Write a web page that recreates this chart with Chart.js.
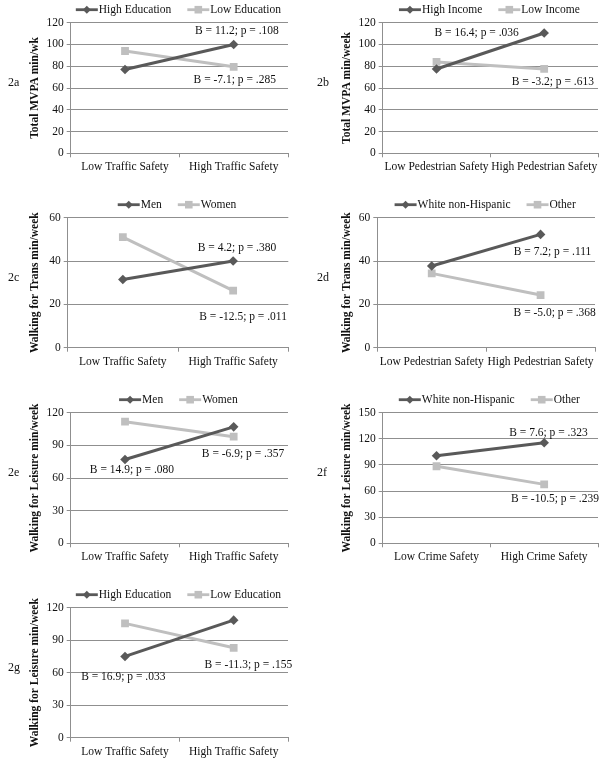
<!DOCTYPE html>
<html>
<head>
<meta charset="utf-8">
<script src="https://cdn.jsdelivr.net/npm/chart.js@4"></script>
<style>
  body { margin: 0; background: #fff; width: 605px; height: 763px; position: relative; overflow: hidden; }
  .panel { position: absolute; }
</style>
</head>
<body>
<div class="panel" style="left:0;top:0;width:300px;height:180px"><canvas id="c2a"></canvas></div>
<div class="panel" style="left:300px;top:0;width:305px;height:180px"><canvas id="c2b"></canvas></div>
<div class="panel" style="left:0;top:190px;width:300px;height:180px"><canvas id="c2c"></canvas></div>
<div class="panel" style="left:300px;top:190px;width:305px;height:180px"><canvas id="c2d"></canvas></div>
<div class="panel" style="left:0;top:390px;width:300px;height:180px"><canvas id="c2e"></canvas></div>
<div class="panel" style="left:300px;top:390px;width:305px;height:180px"><canvas id="c2f"></canvas></div>
<div class="panel" style="left:0;top:585px;width:300px;height:178px"><canvas id="c2g"></canvas></div>
<script>
// categories
const trafficCats = ['Low Traffic Safety', 'High Traffic Safety'];
const pedCats = ['Low Pedestrian Safety', 'High Pedestrian Safety'];
const crimeCats = ['Low Crime Safety', 'High Crime Safety'];

// 2a total MVPA by education
const highEdMvpa = [77, 100];
const lowEdMvpa = [94, 79.5];
// 2b total MVPA by income
const highIncMvpa = [77.5, 110.5];
const lowIncMvpa = [84, 77.5];
// 2c walking for transport by gender
const menTrans = [31.5, 40];
const womenTrans = [51, 26.3];
// 2d walking for transport by race
const whiteTrans = [37.7, 52.3];
const otherTrans = [34.3, 24.3];
// 2e walking for leisure by gender
const menLeisure = [77, 107];
const womenLeisure = [111.7, 98];
// 2f walking for leisure by race
const whiteLeisure = [100.5, 115.5];
const otherLeisure = [88.5, 67.7];
// 2g walking for leisure by education
const highEdLeisure = [75, 108.5];
const lowEdLeisure = [105.5, 83];

const DARK = '#595959';
const LIGHT = '#bfbfbf';
const GRID = '#8f8f8f';
const TEXT = '#111';
const SERIF = "'Liberation Serif', 'Times New Roman', serif";
const FS = 11.5;

Chart.defaults.font.family = SERIF;
Chart.defaults.font.size = FS;
Chart.defaults.color = TEXT;

const panels = [
    { id: 'c2a', tag: '2a', cats: trafficCats, yTitle: 'Total MVPA min/wk', max: 120, step: 20,
      series: [['High Education', highEdMvpa], ['Low Education', lowEdMvpa]],
      notes: [['B = 11.2; p = .108', 1.03, 112.4], ['B = -7.1; p = .285', 1.01, 67.3]],
      area: { left: 70.7, top: 22.7, right: 288, bottom: 153.3 }, w: 300, tagX: 8, titleX: 35 },
    { id: 'c2b', tag: '2b', cats: pedCats, yTitle: 'Total MVPA min/week', max: 120, step: 20,
      series: [['High Income', highIncMvpa], ['Low Income', lowIncMvpa]],
      notes: [['B = 16.4; p = .036', 0.373, 110.3], ['B = -3.2; p = .613', 1.08, 65.8]],
      area: { left: 82.7, top: 22.7, right: 298, bottom: 153.3 }, w: 305, tagX: 17, titleX: 46.7 },
    { id: 'c2c', tag: '2c', cats: trafficCats, yTitle: 'Walking for Trans min/week', max: 60, step: 20,
      series: [['Men', menTrans], ['Women', womenTrans]],
      notes: [['B = 4.2; p = .380', 1.035, 45.9], ['B = -12.5; p = .011', 1.09, 14.3]],
      area: { left: 67.7, top: 27.7, right: 288.3, bottom: 157.7 }, w: 300, tagX: 8, titleX: 35 },
    { id: 'c2d', tag: '2d', cats: pedCats, yTitle: 'Walking for Trans min/week', max: 60, step: 20,
      series: [['White non-Hispanic', whiteTrans], ['Other', otherTrans]],
      notes: [['B = 7.2; p = .111', 1.11, 44.3], ['B = -5.0; p = .368', 1.13, 16.2]],
      area: { left: 77.3, top: 27.7, right: 295, bottom: 157.7 }, w: 305, tagX: 17, titleX: 46.7 },
    { id: 'c2e', tag: '2e', cats: trafficCats, yTitle: 'Walking for Leisure min/week', max: 120, step: 30,
      series: [['Men', menLeisure], ['Women', womenLeisure]],
      notes: [['B = 14.9; p = .080', 0.064, 67.3], ['B = -6.9; p = .357', 1.086, 81.8]],
      area: { left: 70.7, top: 22.7, right: 288, bottom: 153.3 }, w: 300, tagX: 8, titleX: 35 },
    { id: 'c2f', tag: '2f', cats: crimeCats, yTitle: 'Walking for Leisure min/week', max: 150, step: 30,
      series: [['White non-Hispanic', whiteLeisure], ['Other', otherLeisure]],
      notes: [['B = 7.6; p = .323', 1.04, 127], ['B = -10.5; p = .239', 1.10, 50.5]],
      area: { left: 82.7, top: 22.7, right: 298, bottom: 153.3 }, w: 305, tagX: 17, titleX: 46.7 },
    { id: 'c2g', tag: '2g', cats: trafficCats, yTitle: 'Walking for Leisure min/week', max: 120, step: 30,
      series: [['High Education', highEdLeisure], ['Low Education', lowEdLeisure]],
      notes: [['B = 16.9; p = .033', -0.016, 56.3], ['B = -11.3; p = .155', 1.135, 67.1]],
      area: { left: 70.7, top: 22.7, right: 288, bottom: 152.7 }, w: 300, tagX: 8, titleX: 35 }
];

function drawMarker(ctx, style, x, y, r) {
    ctx.beginPath();
    if (style === 'rectRot') {
        ctx.moveTo(x, y - r);
        ctx.lineTo(x + r, y);
        ctx.lineTo(x, y + r);
        ctx.lineTo(x - r, y);
    } else {
        ctx.rect(x - r, y - r, 2 * r, 2 * r);
    }
    ctx.closePath();
    ctx.fill();
}

// legend, panel tag, y title and B/p notes
const panelDecor = {
    id: 'panelDecor',
    afterDraw(chart, args, opts) {
        const ctx = chart.ctx;
        const ca = chart.chartArea;
        const xs = chart.scales.x, ys = chart.scales.y;
        ctx.save();
        ctx.font = FS + 'px ' + SERIF;
        ctx.textBaseline = 'middle';

        // legend
        const items = chart.data.datasets.map(ds => ({ ds, tw: ctx.measureText(ds.label).width }));
        const lineW = 22, gap = 16;
        const total = items.reduce((s, it) => s + lineW + 2 + it.tw, 0) + gap * (items.length - 1);
        let lx = (ca.left + ca.right) / 2 - total / 2;
        const ly = ca.top - 13;
        items.forEach(it => {
            ctx.strokeStyle = it.ds.borderColor;
            ctx.fillStyle = it.ds.borderColor;
            ctx.lineWidth = 2.8;
            ctx.beginPath();
            ctx.moveTo(lx, ly);
            ctx.lineTo(lx + lineW, ly);
            ctx.stroke();
            drawMarker(ctx, it.ds.pointStyle, lx + lineW / 2, ly, it.ds.pointStyle === 'rectRot' ? 4 : 3.8);
            ctx.fillStyle = TEXT;
            ctx.textAlign = 'left';
            ctx.fillText(it.ds.label, lx + lineW + 1, ly + 0.5);
            lx += lineW + 1 + it.tw + gap;
        });

        // notes
        ctx.textAlign = 'center';
        opts.notes.forEach(([txt, ix, v]) => {
            ctx.fillText(txt, xs.getPixelForValue(ix), ys.getPixelForValue(v));
        });

        // panel tag
        ctx.font = '12px ' + SERIF;
        ctx.textAlign = 'left';
        const cy = (ca.top + ca.bottom) / 2;
        ctx.fillText(opts.tag, opts.tagX, cy - 5);

        // y title
        ctx.font = 'bold ' + FS + 'px ' + SERIF;
        ctx.translate(opts.titleX, cy);
        ctx.rotate(-Math.PI / 2);
        ctx.textAlign = 'center';
        ctx.fillText(opts.yTitle, 0, 0);
        ctx.restore();
    }
};

panels.forEach(p => {
    const colors = [DARK, LIGHT];
    const styles = ['rectRot', 'rect'];
    new Chart(document.getElementById(p.id), {
        type: 'line',
        data: {
            labels: p.cats,
            datasets: p.series.map(([label, values], i) => ({
                label,
                data: values,
                borderColor: colors[i],
                backgroundColor: colors[i],
                pointBackgroundColor: colors[i],
                pointBorderColor: colors[i],
                pointStyle: styles[i],
                pointRadius: i === 0 ? 4.8 : 5.5,
                pointBorderWidth: 0,
                borderWidth: 3,
                tension: 0
            }))
        },
        options: {
            responsive: true,
            maintainAspectRatio: false,
            animation: false,
            events: [],
            layout: { padding: { top: p.area.top, right: p.w - p.area.right, left: 0, bottom: 0 } },
            plugins: {
                legend: { display: false },
                tooltip: { enabled: false },
                panelDecor: { tag: p.tag, yTitle: p.yTitle, notes: p.notes, tagX: p.tagX, titleX: p.titleX }
            },
            scales: {
                x: {
                    offset: true,
                    grid: { offset: true, drawOnChartArea: false, drawTicks: true, tickLength: 4, color: GRID },
                    border: { color: GRID },
                    ticks: { autoSkip: false, maxRotation: 0, padding: 3, color: TEXT },
                    afterFit(s) { s.height = s.chart.height - p.area.bottom; }
                },
                y: {
                    min: 0,
                    max: p.max,
                    grid: { color: GRID, tickLength: 4 },
                    border: { color: GRID },
                    ticks: { stepSize: p.step, padding: 3, color: TEXT },
                    afterFit(s) { s.width = p.area.left; }
                }
            }
        },
        plugins: [panelDecor]
    });
});
</script>
</body>
</html>
